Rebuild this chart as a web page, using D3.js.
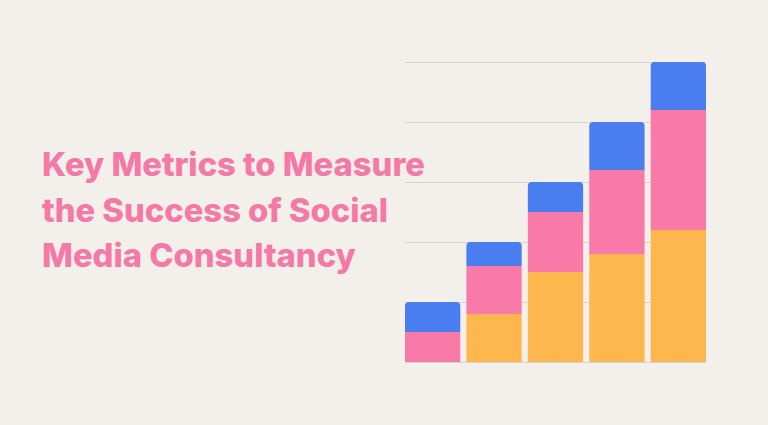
<!DOCTYPE html><html><head><meta charset="utf-8"><script src="https://cdn.jsdelivr.net/npm/d3@7"></script>
<style>body{margin:0;background:#f3efea}</style></head><body><svg id="c" width="768" height="425"></svg>
<script>
const categories=["A","B","C","D","E"];
const orange=[0,8,15,18,22];
const pink=[5,8,10,14,20];
const blue=[5,4,5,8,8];
const ticks=[0,10,20,30,40,50];
const titleLines=["Key Metrics to Measure","the Success of Social","Media Consultancy"];
const colors={orange:"#feb64e",pink:"#f979a8",blue:"#4a7def"};

const svg=d3.select("#c");
svg.append("rect").attr("width",768).attr("height",425).attr("fill","#f3efea");
const x=d3.scaleBand().domain(categories).range([405,706]).paddingInner(0.1);
const y=d3.scaleLinear().domain([0,50]).range([362,62]);
svg.selectAll("line.g").data(ticks).join("line").attr("x1",405).attr("x2",706)
 .attr("y1",d=>y(d)+0.5).attr("y2",d=>y(d)+0.5).attr("stroke","#d8d3cd").attr("stroke-width",1);
const data=categories.map((c,i)=>({c,orange:orange[i],pink:pink[i],blue:blue[i]}));
const stack=d3.stack().keys(["orange","pink","blue"])(data);
stack.forEach(s=>{
 svg.selectAll(null).data(s).join("path").attr("fill",colors[s.key]).attr("d",d=>{
  const x0=x(d.data.c),w=x.bandwidth(),y0=y(d[0]),y1=y(d[1]);
  if(y0-y1<=0) return "";
  const r=s.key==="blue"?4:0;
  return `M${x0},${y0}V${y1+r}Q${x0},${y1} ${x0+r},${y1}H${x0+w-r}Q${x0+w},${y1} ${x0+w},${y1+r}V${y0}Z`;
 });
});
const t=svg.selectAll("text.t").data(titleLines).join("text").attr("x",42)
 .attr("y",(d,i)=>176+i*45.5).attr("fill","#f479a6").attr("font-family","Inter, sans-serif")
 .attr("font-weight",800).attr("font-size",30).text(d=>d);
const w=t.nodes()[0].getComputedTextLength();
t.attr("font-size",30*383/w);
</script></body></html>
